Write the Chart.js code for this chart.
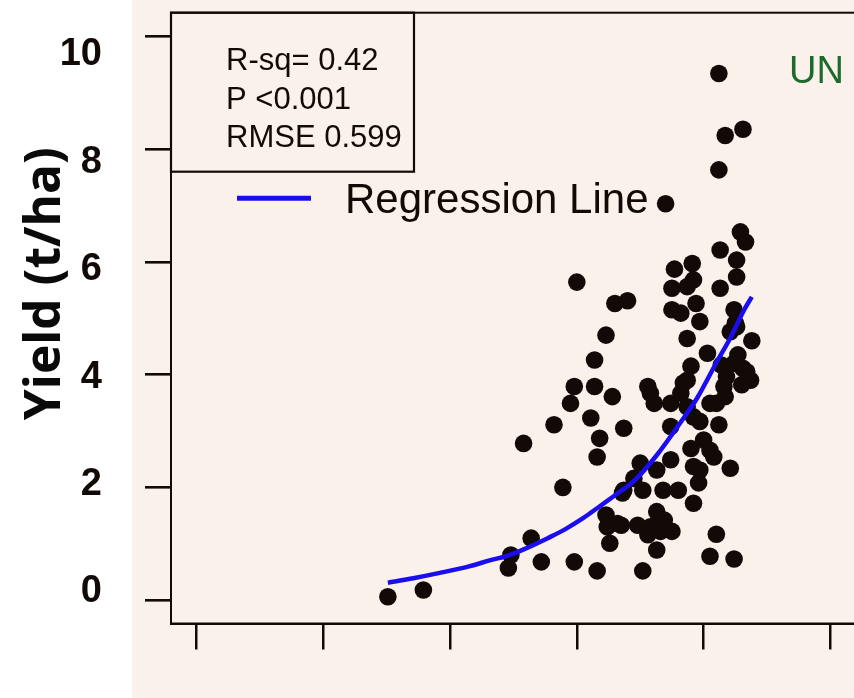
<!DOCTYPE html>
<html><head><meta charset="utf-8">
<script src="https://cdn.jsdelivr.net/npm/chart.js@4.4.0/dist/chart.umd.min.js"></script>
<style>
html,body{margin:0;padding:0;overflow:hidden;width:854px;height:698px;}
body{background:linear-gradient(to right,#ffffff 0,#ffffff 132px,#FAF1EB 132px,#FAF1EB 100%);}
#wrap{position:absolute;left:0;top:0;width:890px;height:698px;}
</style></head><body>
<div id="wrap"><canvas id="c" width="890" height="698"></canvas></div>
<script>
// ---- data ----
const xTicks = [0, 1, 2, 3, 4, 5];
const yTicks = [0, 2, 4, 6, 8, 10];
const obsX = [1.51,1.79,2.46,2.48,2.64,2.72,2.58,2.82,2.89,2.95,2.98,2.98,3.00,3.11,3.14,3.14,3.16,3.16,3.18,3.23,
  3.23,3.24,3.26,3.28,3.30,3.35,3.36,3.37,3.40,3.45,3.48,3.50,3.52,3.52,3.58,3.58,3.61,3.63,3.63,3.63,
  3.66,3.68,3.70,3.74,3.74,3.74,3.75,3.75,3.75,3.77,3.80,3.82,3.82,3.84,3.87,3.87,3.90,3.90,3.91,3.92,
  3.92,3.94,3.96,3.97,3.97,3.97,4.00,4.03,4.05,4.05,4.05,4.10,4.12,4.12,4.12,4.13,4.13,4.17,4.16,4.17,
  4.18,4.21,4.21,4.24,4.24,4.24,4.25,4.26,4.26,4.29,4.31,4.31,4.33,4.37,4.38,4.08,4.27,4.30,4.10,3.56,3.69,
  3.87,4.26,3.92,3.92,3.37,3.32,3.87,3.56,4.34,4.14];
const obsY = [0.06,0.18,0.57,0.80,1.10,0.68,2.78,3.11,2.00,3.49,3.79,0.68,5.64,3.23,4.26,3.79,2.54,0.52,2.87,4.70,
  1.51,1.30,1.01,3.61,5.26,1.33,1.90,3.05,5.31,2.16,1.33,2.43,1.95,0.52,3.67,1.30,3.49,2.31,1.57,0.89,
  1.22,1.95,7.03,3.49,3.08,2.49,5.53,5.15,1.22,5.87,1.95,5.09,3.67,3.85,4.64,3.43,4.15,2.69,5.97,1.72,
  5.68,5.26,2.08,4.94,3.17,2.31,2.84,4.38,3.49,2.66,0.78,1.17,3.11,9.34,7.63,5.53,6.21,8.24,3.79,3.61,
  3.96,4.76,2.34,5.15,4.20,0.73,4.91,6.03,5.73,6.53,8.35,4.11,6.35,3.90,4.60,2.54,4.35,3.82,3.49,1.16,1.42,
  5.56,4.85,3.25,2.37,1.95,1.36,3.90,3.79,4.05,4.17];
const fitX = [1.51,1.71,1.91,2.15,2.32,2.47,2.62,2.77,2.91,3.04,3.14,3.24,3.35,3.45,3.63,3.82,3.95,4.10,4.21,4.32,4.38];
const fitY = [0.31,0.39,0.48,0.60,0.71,0.80,0.94,1.10,1.26,1.44,1.60,1.76,1.94,2.11,2.57,3.16,3.59,4.21,4.65,5.15,5.38];
const statsLines = ['R-sq= 0.42', 'P <0.001', 'RMSE 0.599'];
const fitLabel = 'Regression Line';
const panelLabel = 'UN';
const yTitle = 'Yield (t/ha)';

// ---- style ----
const INK = '#120a06';
const BLUE = '#1a0ef0';
const GREEN = '#1d6b2c';

const pts = obsX.map((x, i) => ({x, y: obsY[i]}));
const fit = fitX.map((x, i) => ({x, y: fitY[i]}));

const setTicks = arr => s => { s.ticks = arr.map(v => ({value: v})); };

const decor = {
  id: 'decor',
  afterDraw(chart) {
    const {ctx, chartArea: ca} = chart;
    ctx.save();
    ctx.strokeStyle = INK;
    ctx.lineWidth = 2;
    ctx.strokeRect(ca.left, ca.top, ca.right - ca.left, ca.bottom - ca.top);
    // stats box
    ctx.lineWidth = 2.2;
    ctx.strokeRect(ca.left, ca.top, 243, 159);
    ctx.fillStyle = INK;
    ctx.font = '31px "Liberation Sans", Arial, sans-serif';
    ctx.textBaseline = 'alphabetic';
    ctx.textAlign = 'left';
    statsLines.forEach((t, i) => ctx.fillText(t, ca.left + 55, ca.top + 57.5 + i * 38.3));
    // legend
    const ds = chart.data.datasets[0];
    ctx.strokeStyle = ds.borderColor;
    ctx.lineWidth = 5;
    ctx.beginPath();
    ctx.moveTo(ca.left + 66, ca.top + 185.5);
    ctx.lineTo(ca.left + 140, ca.top + 185.5);
    ctx.stroke();
    ctx.font = '42px "Liberation Sans", Arial, sans-serif';
    ctx.fillText(ds.label, ca.left + 174, ca.top + 200.5);
    // panel label
    ctx.fillStyle = GREEN;
    ctx.font = '38px "Liberation Sans", Arial, sans-serif';
    ctx.fillText(panelLabel, ca.left + 618, ca.top + 70);
    // y title
    ctx.fillStyle = '#0a0a0a';
    ctx.font = 'bold 100px "Open Sans", sans-serif';
    const w = ctx.measureText(yTitle).width;
    const size = 100 * 273 / w;
    ctx.font = 'bold ' + size.toFixed(1) + 'px "Open Sans", sans-serif';
    ctx.translate(chart.scales.yl.left + 46, ca.top + 271);
    ctx.rotate(-Math.PI / 2);
    ctx.textAlign = 'center';
    ctx.textBaseline = 'middle';
    ctx.fillText(yTitle, 0, 0);
    ctx.restore();
  }
};

new Chart(document.getElementById('c'), {
  type: 'scatter',
  data: {
    datasets: [
      {label: fitLabel, data: fit, showLine: true, borderColor: BLUE, borderWidth: 4.5,
       pointRadius: 0, cubicInterpolationMode: 'monotone', order: 0},
      {label: 'Observed', data: pts, backgroundColor: INK, borderWidth: 0,
       pointRadius: 8.8, pointHoverRadius: 8.8, order: 1}
    ]
  },
  options: {
    responsive: false,
    animation: false,
    events: [],
    layout: {padding: {left: 0, top: 12.7, right: 4.4, bottom: 48.5}},
    plugins: {legend: {display: false}, tooltip: {enabled: false}},
    scales: {
      x: {
        type: 'linear', position: 'bottom', min: -0.2, max: 5.4,
        afterBuildTicks: setTicks(xTicks),
        grid: {drawOnChartArea: false, drawTicks: true, tickLength: 26, color: INK, lineWidth: 2.5},
        border: {display: true, color: INK, width: 2},
        ticks: {display: false},
        afterFit: s => { s.height = 26; }
      },
      y: {
        type: 'linear', position: 'left', weight: 0, min: -0.413, max: 10.417,
        afterBuildTicks: setTicks(yTicks),
        grid: {drawOnChartArea: false, drawTicks: true, tickLength: 26, color: INK, lineWidth: 2.6},
        border: {display: true, color: INK, width: 2},
        ticks: {display: false},
        afterFit: s => { s.width = 26; }
      },
      yl: {
        type: 'linear', position: 'left', weight: 1, min: -0.587, max: 10.788,
        afterBuildTicks: setTicks(yTicks),
        grid: {display: false},
        border: {display: false},
        ticks: {display: true, padding: 35, color: INK,
                font: {family: '"Liberation Sans", Arial, sans-serif', size: 38, weight: 'bold'}},
        afterFit: s => { s.width = 145; s.paddingTop = 0; s.paddingBottom = 0; }
      }
    }
  },
  plugins: [decor]
});
</script>
</body></html>
